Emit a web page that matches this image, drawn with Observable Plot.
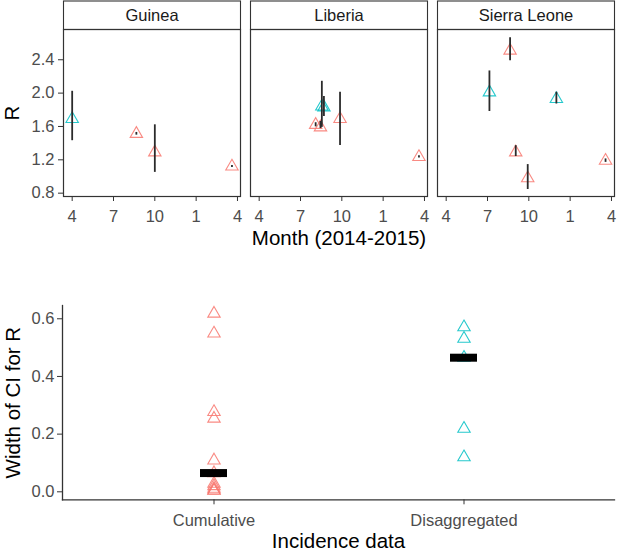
<!DOCTYPE html>
<html>
<head>
<meta charset="utf-8">
<script src="https://cdn.jsdelivr.net/npm/d3@7"></script>
<script src="https://cdn.jsdelivr.net/npm/@observablehq/plot@0.6"></script>
<style>
  body { margin: 0; background: #fff; }
  #chart { width: 617px; }
  #chart svg { display: block; }
</style>
</head>
<body>
<div id="chart"></div>
<script>
// ---- data ----
const countries = ["Guinea", "Liberia", "Sierra Leone"];
const incidenceTypes = ["Cumulative", "Disaggregated"];
const incidenceColors = ["#F8766D", "#00BFC4"];

const country   = ["Guinea","Guinea","Guinea","Guinea",
                   "Liberia","Liberia","Liberia","Liberia","Liberia","Liberia",
                   "Sierra Leone","Sierra Leone","Sierra Leone","Sierra Leone","Sierra Leone","Sierra Leone"];
// month index counted from Jan 2014 (4 = Apr 2014, 13 = Jan 2015, 16 = Apr 2015)
const month     = [4.0, 8.66, 10.0, 15.6,
                   8.55, 8.70, 8.10, 8.45, 9.87, 15.6,
                   8.64, 7.14, 12.0, 9.05, 9.92, 15.57];
const estimateR = [1.69, 1.512, 1.29, 1.12,
                   1.84, 1.83, 1.62, 1.59, 1.69, 1.235,
                   2.51, 2.01, 1.93, 1.29, 0.98, 1.19];
const lowerR    = [1.44, 1.5065, 1.06, 1.1175,
                   1.60, 1.73, 1.606, 1.585, 1.382, 1.233,
                   2.40, 1.79, 1.88, 1.25, 0.855, 1.18];
const upperR    = [2.011, 1.5175, 1.609, 1.1225,
                   2.131, 1.949, 1.634, 1.65, 2.0, 1.237,
                   2.654, 2.255, 2.0, 1.359, 1.132, 1.20];
const incidence = ["Disaggregated","Cumulative","Cumulative","Cumulative",
                   "Disaggregated","Disaggregated","Cumulative","Cumulative","Cumulative","Cumulative",
                   "Cumulative","Disaggregated","Disaggregated","Cumulative","Cumulative","Cumulative"];

const monthTicks = [4, 7, 10, 13, 16];
const monthTickLabels = ["4", "7", "10", "1", "4"];
const rTicks = [0.8, 1.2, 1.6, 2.0, 2.4];
const widthTicks = [0, 0.2, 0.4, 0.6];

const rows = country.map((c, i) => ({
  country: c, month: month[i], R: estimateR[i],
  lower: lowerR[i], upper: upperR[i], incidence: incidence[i],
  width: upperR[i] - lowerR[i]
}));

const font = "'Liberation Sans', Arial, Helvetica, sans-serif";
const tickColor = "#4D4D4D";
const tickFont = 16.5, titleFont = 20.5;

// ---- top: R by month, faceted by country ----
const topH = 250, topMT = 29, topMB = 54;
const topChart = Plot.plot({
  width: 617, height: topH,
  marginTop: topMT, marginBottom: topMB, marginLeft: 63, marginRight: 3,
  style: {fontFamily: font, fontSize: tickFont + "px", color: tickColor, background: "white", overflow: "visible"},
  fx: {domain: countries, paddingInner: 0.0535, paddingOuter: 0, axis: null, label: null},
  x: {domain: [3.37, 16.22]},
  y: {domain: [0.76, 2.763]},
  color: {domain: incidenceTypes, range: incidenceColors},
  marks: [
    Plot.frame({fill: "white", stroke: "#333", strokeWidth: 1.1, insetTop: -(topMT - 0.5), insetBottom: topH - topMT - topMB}),
    Plot.frame({stroke: "#333", strokeWidth: 1.2}),
    Plot.axisX({ticks: monthTicks, tickFormat: d => monthTickLabels[monthTicks.indexOf(d)],
                tickSize: 5, tickPadding: 9, label: null, stroke: "#333", fill: tickColor, fontSize: tickFont}),
    Plot.axisY({ticks: rTicks, tickFormat: d3.format(".1f"), tickSize: 5, tickPadding: 4,
                label: null, stroke: "#333", fill: tickColor, fontSize: tickFont}),
    Plot.dot(rows, {fx: "country", x: "month", y: "R", symbol: "triangle", r: 4.6,
                    stroke: "incidence", fill: "none", strokeWidth: 1.1, strokeOpacity: 0.85}),
    Plot.ruleX(rows, {fx: "country", x: "month", y1: "lower", y2: "upper",
                      stroke: "#2b2b2b", strokeWidth: 1.8, strokeLinecap: "square"}),
    Plot.text(countries, {fx: d => d, text: d => d, frameAnchor: "top", lineAnchor: "middle", dy: -13.5,
                          fill: "#1A1A1A", fontSize: tickFont}),
    Plot.text(["Month (2014-2015)"], {fx: ["Liberia"], text: d => d, frameAnchor: "bottom", lineAnchor: "middle",
                          dy: 42, fill: "black", fontSize: titleFont}),
    Plot.text(["R"], {fx: ["Guinea"], text: d => d, frameAnchor: "left", textAnchor: "middle", lineAnchor: "middle",
                          dx: -51, rotate: -90, fill: "black", fontSize: titleFont})
  ]
});

// ---- bottom: CI width by incidence data type ----
const botChart = Plot.plot({
  width: 617, height: 301,
  marginTop: 55, marginBottom: 51.7, marginLeft: 62, marginRight: 3,
  style: {fontFamily: font, fontSize: tickFont + "px", color: tickColor, background: "white", overflow: "visible"},
  x: {type: "band", domain: incidenceTypes, paddingInner: 0.892, paddingOuter: 0.548},
  y: {domain: [-0.0277, 0.646]},
  color: {domain: incidenceTypes, range: incidenceColors},
  marks: [
    Plot.frame({anchor: "left", stroke: "#333", strokeWidth: 1.3}),
    Plot.frame({anchor: "bottom", stroke: "#333", strokeWidth: 1.3}),
    Plot.axisX({tickSize: 5, tickPadding: 9.5, label: null, stroke: "#333", fill: tickColor, fontSize: tickFont}),
    Plot.axisY({ticks: widthTicks, tickFormat: d3.format(".1f"), tickSize: 5, tickPadding: 3,
                label: null, stroke: "#333", fill: tickColor, fontSize: tickFont}),
    Plot.dot(rows, {x: "incidence", y: "width", symbol: "triangle", r: 4.6,
                    stroke: "incidence", fill: "none", strokeWidth: 1.1, strokeOpacity: 0.85}),
    Plot.tickY(rows, Plot.groupX({y: "median"}, {x: "incidence", y: "width", stroke: "black", strokeWidth: 8})),
    Plot.text(["Incidence data"], {text: d => d, frameAnchor: "bottom", lineAnchor: "middle", dy: 41.5,
                                   fill: "black", fontSize: titleFont}),
    Plot.text(["Width of CI for R"], {text: d => d, frameAnchor: "left", textAnchor: "middle", lineAnchor: "middle",
                                      dx: -49, rotate: -90, fill: "black", fontSize: titleFont})
  ]
});

document.getElementById("chart").append(topChart, botChart);
</script>
</body>
</html>
